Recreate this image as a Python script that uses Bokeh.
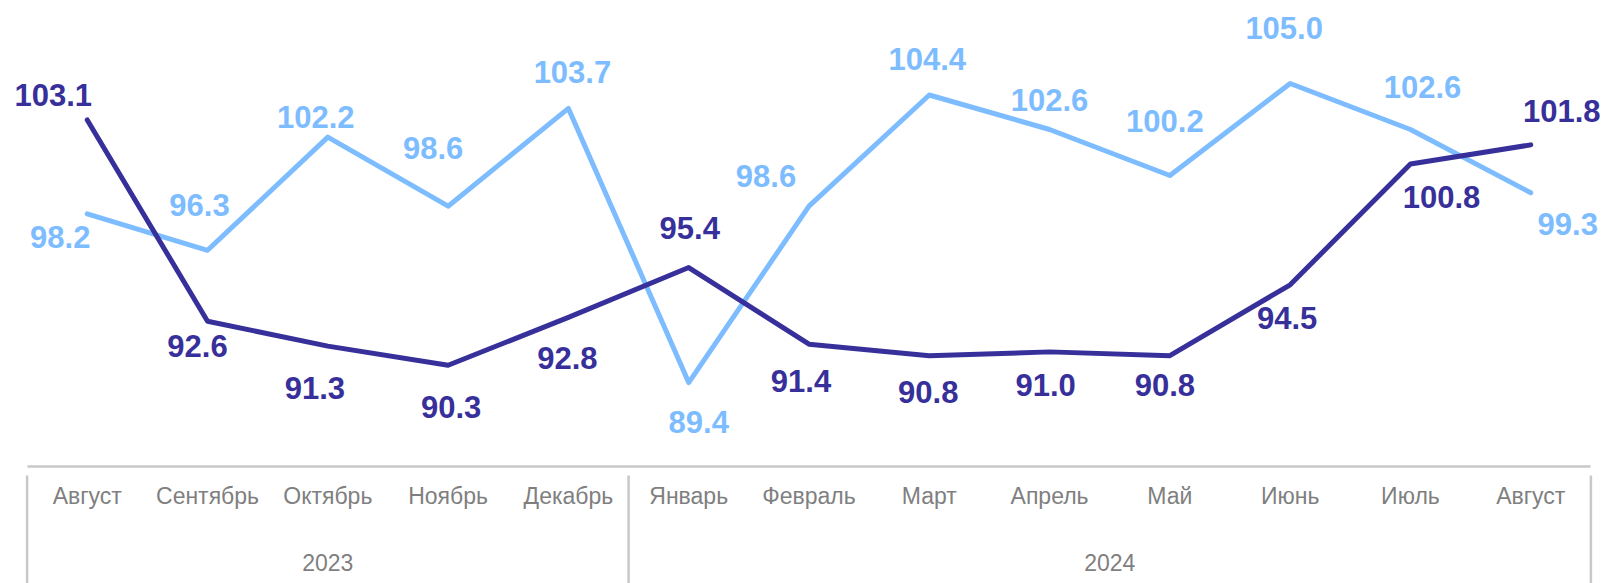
from bokeh.plotting import figure
from bokeh.models import FactorRange, Range1d, CategoricalAxis, ColumnDataSource, LabelSet
from bokeh.embed import file_html
from bokeh.resources import INLINE
from bokeh.core.properties import value

# ---- data ----
years = ["2023"] * 5 + ["2024"] * 8
months = ["Август", "Сентябрь", "Октябрь", "Ноябрь", "Декабрь", "Январь", "Февраль",
          "Март", "Апрель", "Май", "Июнь", "Июль", "Август"]
series_dark = [103.1, 92.6, 91.3, 90.3, 92.8, 95.4, 91.4, 90.8, 91.0, 90.8, 94.5, 100.8, 101.8]
series_light = [98.2, 96.3, 102.2, 98.6, 103.7, 89.4, 98.6, 104.4, 102.6, 100.2, 105.0, 102.6, 99.3]

# label placement offsets (screen px, dx right, dy up)
dark_dx = [-34, -10, -13, 3, -1, 1, -8, -1, -4, -5, -3, 31, 31]
dark_dy = [25, -25, -42, -42, -41, 40, -37, -36, -33, -29, -33, -33, 34]
light_dx = [-27, -8, -12, -15, 4, 10, -43, -2, 0, -5, -6, 12, 37]
light_dy = [-23, 45, 20, 58, 36, -39, 30, 36, 30, 55, 56, 43, -31]

DARK = "#37309a"
LIGHT = "#7dbdff"
GRID = "#c8c8c8"
TXT = "#7f7f7f"
FONT = "Liberation Sans"

factors = list(zip(years, months))
x_range = FactorRange(*factors, factor_padding=0, group_padding=0,
                      range_padding=0.1297, range_padding_units="absolute")

p = figure(width=1606, height=583, x_range=x_range, y_range=Range1d(78.917, 109.33),
           output_backend="svg", toolbar_location=None,
           x_axis_location=None, y_axis_location=None,
           min_border_left=11, min_border_right=0, min_border_top=0, min_border_bottom=0)
p.outline_line_color = None
p.xgrid.visible = False
p.ygrid.visible = False
p.background_fill_color = "white"
p.border_fill_color = "white"

src = ColumnDataSource(dict(x=factors, dark=series_dark, light=series_light,
                            dark_lbl=[f"{v:.1f}" for v in series_dark],
                            light_lbl=[f"{v:.1f}" for v in series_light],
                            ddx=dark_dx, ddy=dark_dy, ldx=light_dx, ldy=light_dy))

p.line("x", "light", source=src, line_color=LIGHT, line_width=5,
       line_join="round", line_cap="round")
p.line("x", "dark", source=src, line_color=DARK, line_width=5,
       line_join="round", line_cap="round")

for col, ycol, dx, dy, color in (("light_lbl", "light", "ldx", "ldy", LIGHT),
                                 ("dark_lbl", "dark", "ddx", "ddy", DARK)):
    p.add_layout(LabelSet(x="x", y=ycol, text=col, source=src, x_offset=dx, y_offset=dy,
                          text_align="center", text_baseline="middle",
                          text_font=value(FONT), text_font_style="bold",
                          text_font_size="31px", text_color=color))

n_all = len(months)
n23 = years.count("2023")

# month axis at the bottom of the data area
axis_level = 85.0
xaxis = CategoricalAxis(fixed_location=axis_level, bounds=(0, n_all))
xaxis.axis_line_color = GRID
xaxis.axis_line_width = 2.5
xaxis.major_tick_line_color = None
xaxis.minor_tick_line_color = None
xaxis.major_tick_out = 0
xaxis.major_tick_in = 0
xaxis.major_label_standoff = 16
xaxis.major_label_text_font = FONT
xaxis.major_label_text_font_size = "23px"
xaxis.major_label_text_color = TXT
xaxis.group_text_color = None
xaxis.separator_line_color = None
p.add_layout(xaxis, "below")

# year axis (group labels only), placed lower
year_level = 81.30
yaxis2 = CategoricalAxis(fixed_location=year_level, bounds=(0, n_all))
yaxis2.axis_line_color = None
yaxis2.major_tick_line_color = None
yaxis2.minor_tick_line_color = None
yaxis2.major_tick_out = 0
yaxis2.major_tick_in = 0
yaxis2.major_label_standoff = 16
yaxis2.major_label_text_font = FONT
yaxis2.major_label_text_font_size = "23px"
yaxis2.major_label_text_color = None
yaxis2.group_text_font = FONT
yaxis2.group_text_font_size = "23px"
yaxis2.group_text_font_style = "normal"
yaxis2.group_text_color = TXT
yaxis2.separator_line_color = None
p.add_layout(yaxis2, "below")

# year separators
bounds = [0, n23, n_all]
p.segment(x0=bounds, x1=bounds, y0=[84.55] * 3, y1=[78.917] * 3,
          line_color=GRID, line_width=2.5)

open("out.html", "w").write(file_html(p, INLINE))
